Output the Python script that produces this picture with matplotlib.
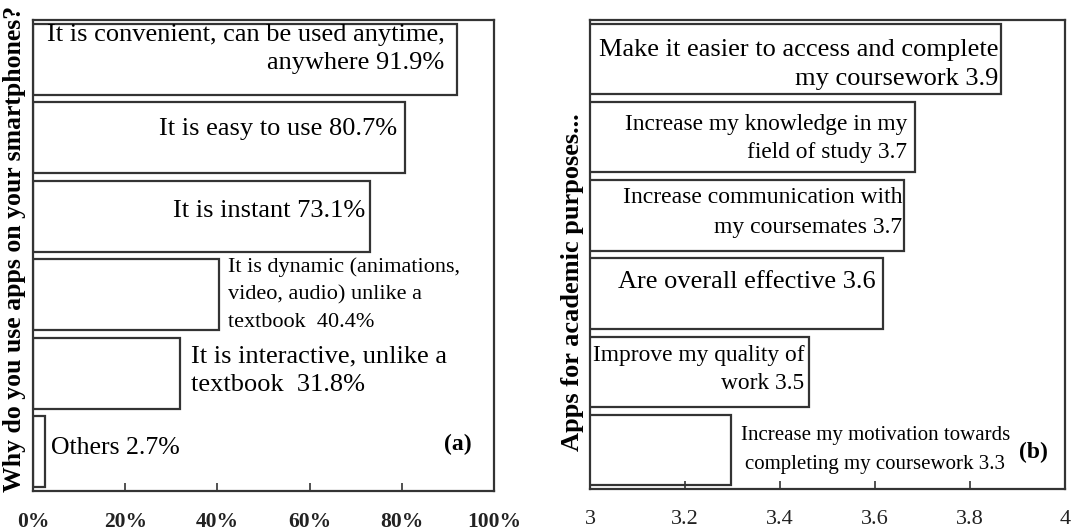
import matplotlib
matplotlib.use("Agg")
import matplotlib.pyplot as plt

plt.rcParams['font.family'] = ['Liberation Serif', 'DejaVu Serif']

# Panel (a): reasons for using apps (% of respondents)
reasons = [
    "It is convenient, can be used anytime,\nanywhere 91.9%",
    "It is easy to use 80.7%",
    "It is instant 73.1%",
    "It is dynamic (animations,\nvideo, audio) unlike a\ntextbook  40.4%",
    "It is interactive, unlike a\ntextbook  31.8%",
    "Others 2.7%",
]
reason_pct = [91.9, 80.7, 73.1, 40.4, 31.8, 2.7]
pct_ticks = [0, 20, 40, 60, 80, 100]
pct_labels = ["0%", "20%", "40%", "60%", "80%", "100%"]

# Panel (b): mean agreement scores
purposes = [
    "Make it easier to access and complete\nmy coursework 3.9",
    "Increase my knowledge in my\nfield of study 3.7",
    "Increase communication with\nmy coursemates 3.7",
    "Are overall effective 3.6",
    "Improve my quality of\nwork 3.5",
    "Increase my motivation towards\ncompleting my coursework 3.3",
]
purpose_score = [3.865, 3.685, 3.66, 3.617, 3.462, 3.296]
score_ticks = [3, 3.2, 3.4, 3.6, 3.8, 4]
score_labels = ["3", "3.2", "3.4", "3.6", "3.8", "4"]

edge = "#333333"
fig = plt.figure(figsize=(10.73, 5.30), dpi=100)
ax1 = fig.add_axes([33/1073, 39/530, 461/1073, 471/530])
ax2 = fig.add_axes([590/1073, 41/530, 475/1073, 469/530])

ypos = list(range(len(reasons)))

# ---- panel (a) ----
ax1.barh(ypos, reason_pct, height=0.9, color="white", edgecolor=edge, linewidth=1.6)
ax1.set_xlim(0, 100)
ax1.set_ylim(5.5, -0.5)
ax1.set_yticks([])
ax1.set_xticks(pct_ticks)
ax1.set_xticklabels(pct_labels, fontsize=15.5, fontweight="bold")

# (x offset in % units, y offset in bar units, align, size, linespacing)
a_style = [(-2.6, -0.13, "right", 19, 1.36), (-1.7, -0.11, "right", 19, 1.36),
           (-1.1, -0.07, "right", 19, 1.36), (1.8, 0.0, "left", 16, 1.62),
           (2.4, -0.03, "left", 19, 1.36), (1.1, -0.05, "left", 18.5, 1.36)]
for i, (lab, v) in enumerate(zip(reasons, reason_pct)):
    dx, dy, ha, fs, ls = a_style[i]
    ax1.text(v + dx, i + dy, lab, ha=ha, va="center", fontsize=fs,
             multialignment=ha, linespacing=ls)
ax1.text(0.952, 0.098, "(a)", transform=ax1.transAxes, ha="right", va="center",
         fontsize=17, fontweight="bold")
fig.text(15/1073, 1 - 249/530, "Why do you use apps on your smartphones?",
         rotation=90, ha="center", va="center", fontsize=18.5, fontweight="bold")

# ---- panel (b) ----
ax2.barh(ypos, purpose_score, left=0, height=0.9, color="white",
         edgecolor=edge, linewidth=1.6)
ax2.set_xlim(3, 4)
ax2.set_ylim(5.5, -0.5)
ax2.set_yticks([])
ax2.set_xticks(score_ticks)
ax2.set_xticklabels(score_labels, fontsize=16)

b_style = [(-0.006, 0.07, "right", 19, 1.36), (-0.017, 0.02, "right", 16.8, 1.42),
           (-0.003, -0.04, "right", 17, 1.55), (-0.015, -0.15, "right", 19, 1.36),
           (-0.011, -0.03, "right", 16.8, 1.42), (0.305, 0.0, "center", 15, 1.67)]
for i, (lab, v) in enumerate(zip(purposes, purpose_score)):
    dx, dy, ha, fs, ls = b_style[i]
    ax2.text(v + dx, i + dy, lab, ha=ha, va="center", fontsize=fs,
             multialignment="right" if ha == "right" else "center",
             linespacing=ls)
ax2.text(0.964, 0.077, "(b)", transform=ax2.transAxes, ha="right", va="center",
         fontsize=17, fontweight="bold")
fig.text(573/1073, 1 - 282/530, "Apps for academic purposes...",
         rotation=90, ha="center", va="center", fontsize=19, fontweight="bold")

for ax in (ax1, ax2):
    for s in ax.spines.values():
        s.set_color(edge)
        s.set_linewidth(1.6)
    ax.tick_params(axis="x", direction="in", length=6, width=1.2, color=edge,
                   pad=15, labelcolor="#222222")

fig.savefig("out.png", dpi=100)
